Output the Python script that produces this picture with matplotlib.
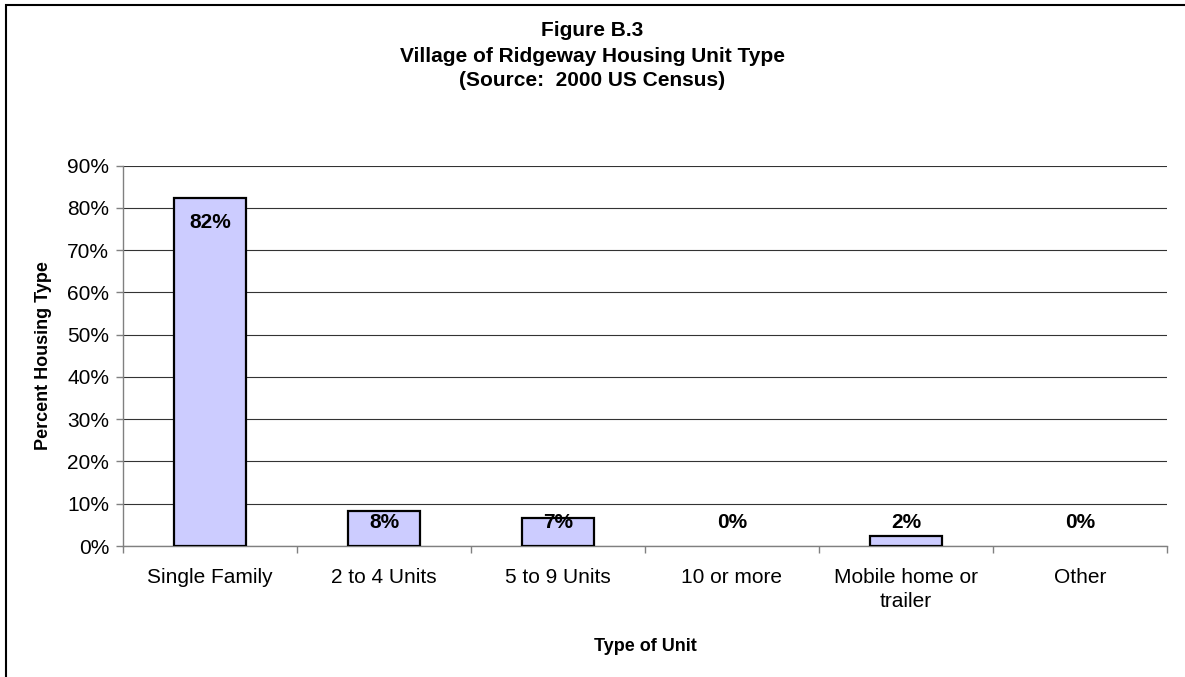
import matplotlib.pyplot as plt
from matplotlib.patches import Rectangle
from matplotlib.ticker import FuncFormatter

plt.rcParams['font.family'] = ['Liberation Sans', 'DejaVu Sans']

# data
categories = ['Single Family', '2 to 4 Units', '5 to 9 Units', '10 or more',
              'Mobile home or\ntrailer', 'Other']
percent = [82.4, 8.4, 6.6, 0.0, 2.4, 0.0]
y_ticks = [0, 10, 20, 30, 40, 50, 60, 70, 80, 90]
title_lines = ['Figure B.3', 'Village of Ridgeway Housing Unit Type',
               '(Source:  2000 US Census)']

fig = plt.figure(figsize=(11.85, 6.77), dpi=100)
ax = fig.add_axes([0.1038, 0.1935, 0.881, 0.5618])

x = list(range(len(categories)))
# zero bars get no outline, as in the original
widths = [1.6 if v > 0 else 0 for v in percent]
ax.bar(x, percent, width=0.41, color='#CCCCFF', edgecolor='black',
       linewidth=widths, zorder=3)

# value labels (inside end, pushed up for short bars)
for xi, v in zip(x, percent):
    ax.text(xi, max(v - 5.8, 5.5), '%d%%' % round(v), ha='center', va='center',
            fontsize=15, fontweight='bold', zorder=4)

ax.set_xlim(-0.5, len(categories) - 0.5)
ax.set_ylim(0, 90)
ax.set_yticks(y_ticks)
ax.yaxis.set_major_formatter(FuncFormatter(lambda v, p: '%d%%' % v))
ax.grid(axis='y', color='#333333', linewidth=0.8, zorder=0)

ax.set_xticks(x)
ax.set_xticklabels(categories, fontsize=15, linespacing=1.36)
ax.set_xticks([i - 0.5 for i in range(len(categories) + 1)], minor=True)
ax.tick_params(axis='x', which='major', length=0, pad=15.5)
ax.tick_params(axis='x', which='minor', length=5, width=1, color='#808080')
ax.tick_params(axis='y', labelsize=15, length=5, width=1, color='#808080', pad=5)

for side in ['top', 'right']:
    ax.spines[side].set_visible(False)
for side in ['left', 'bottom']:
    ax.spines[side].set_color('#808080')
    ax.spines[side].set_linewidth(1)

ax.set_ylabel('Percent Housing Type', fontsize=13, fontweight='bold')
ax.yaxis.set_label_coords(-0.068, 0.5)
ax.set_xlabel('Type of Unit', fontsize=13, fontweight='bold')
ax.xaxis.set_label_coords(0.5, -0.242)

# title, three centred lines
for ypix, line in zip([31, 56, 80], title_lines):
    fig.text(0.5, 1 - ypix / 677, line, ha='center', va='center',
             fontsize=15, fontweight='bold')

# chart border (only top and left edges show in the picture)
fig.patches.append(Rectangle((6 / 1185, -0.1), 1.2, 1 - 5 / 677 + 0.1,
                             transform=fig.transFigure, fill=False,
                             edgecolor='black', linewidth=1.5))

plt.savefig('out.png', dpi=100)
